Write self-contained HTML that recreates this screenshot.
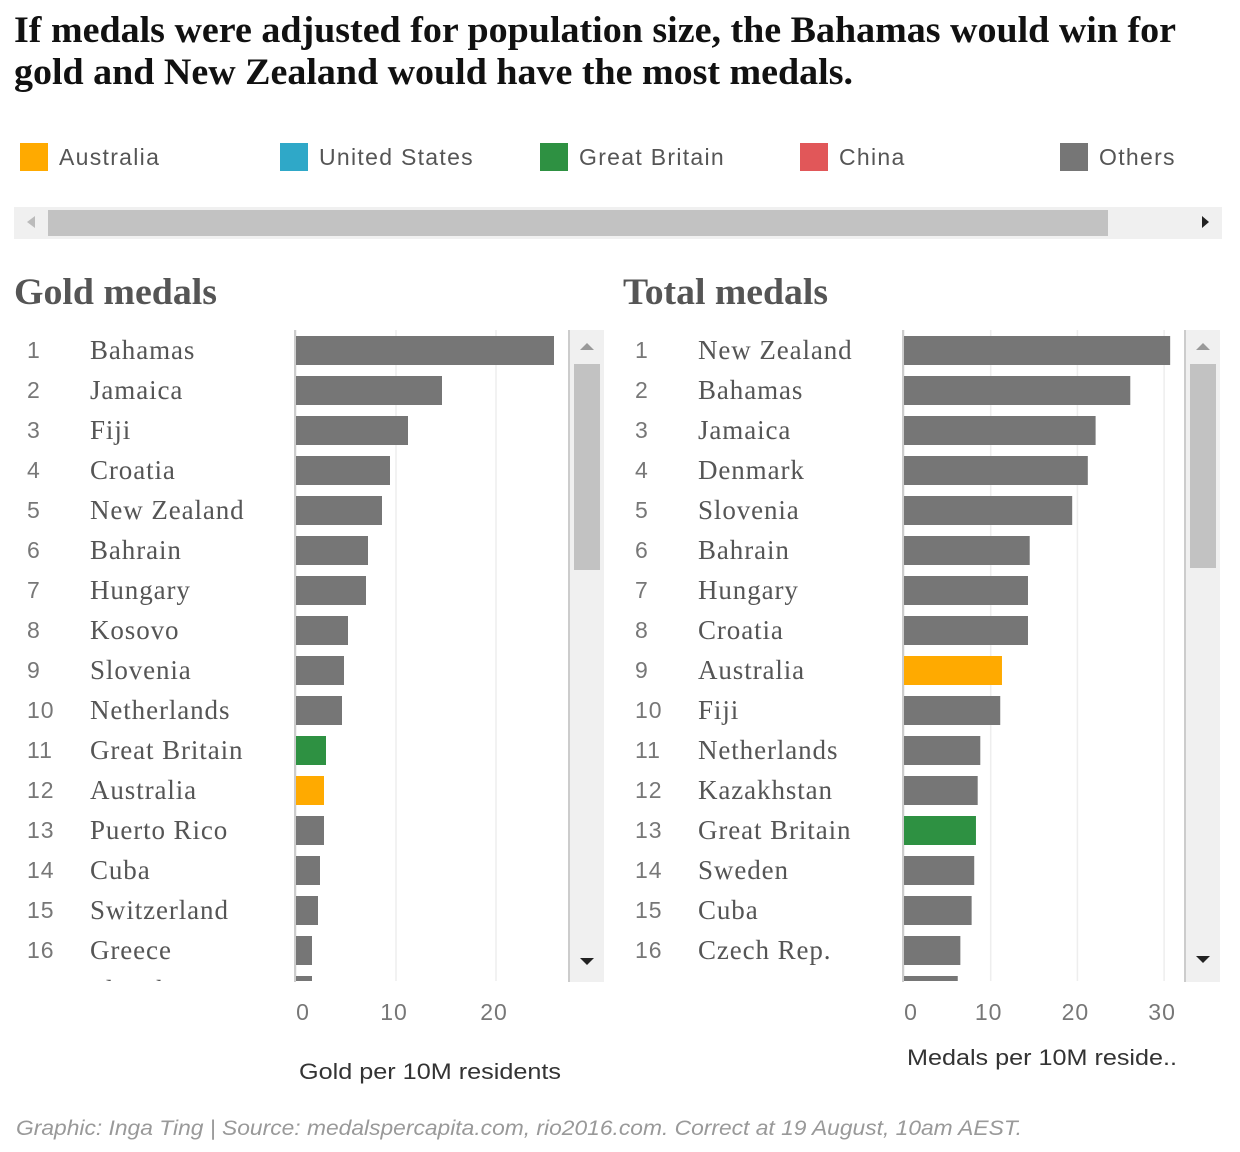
<!DOCTYPE html>
<html><head><meta charset="utf-8"><style>
body{margin:0;width:1240px;height:1147px;background:#fff;overflow:hidden;font-family:"Liberation Sans",sans-serif}
</style></head><body>
<svg id="chart" width="1240" height="1147" xmlns="http://www.w3.org/2000/svg">
<text x="14" y="42" font-family="Liberation Serif" font-weight="bold" font-size="37" fill="#111" textLength="1162" lengthAdjust="spacingAndGlyphs">If medals were adjusted for population size, the Bahamas would win for</text>
<text x="14" y="84" font-family="Liberation Serif" font-weight="bold" font-size="37" fill="#111" textLength="839" lengthAdjust="spacingAndGlyphs">gold and New Zealand would have the most medals.</text>
<g id="legend"></g>
<g>
<rect x="14" y="207" width="1208" height="32" fill="#f0f0f0"/>
<rect x="48" y="210" width="1060" height="26" fill="#c2c2c2"/>
<polygon points="27,222 35,216 35,228" fill="#bbb"/>
<polygon points="1209,222 1202,216 1202,228" fill="#222"/>
</g>
<text x="14" y="304" font-family="Liberation Serif" font-weight="bold" font-size="37" fill="#555" textLength="203" lengthAdjust="spacingAndGlyphs">Gold medals</text>
<text x="623" y="304" font-family="Liberation Serif" font-weight="bold" font-size="37" fill="#555" textLength="205" lengthAdjust="spacingAndGlyphs">Total medals</text>
<defs>
<clipPath id="c1"><rect x="0" y="330" width="570" height="651"/></clipPath>
<clipPath id="c2"><rect x="620" y="330" width="565" height="651"/></clipPath>
</defs>
<g id="gold" clip-path="url(#c1)"></g>
<g id="total" clip-path="url(#c2)"></g>
<g id="axes"></g>
<g>
<rect x="569" y="330" width="35" height="652" fill="#f0f0f0"/><rect x="568" y="330" width="2" height="652" fill="#ccc"/>
<rect x="574" y="364" width="26" height="206" fill="#c2c2c2"/>
<polygon points="587,343 580,350 594,350" fill="#999"/><polygon points="587,965 580,958 594,958" fill="#222"/>
</g>
<g>
<rect x="1185" y="330" width="35" height="652" fill="#f0f0f0"/><rect x="1184" y="330" width="2" height="652" fill="#ccc"/>
<rect x="1190" y="364" width="26" height="204" fill="#c2c2c2"/>
<polygon points="1203,343 1196,350 1210,350" fill="#999"/><polygon points="1203,963 1196,956 1210,956" fill="#222"/>
</g>
<text x="299" y="1079" font-size="22" fill="#333" textLength="262" lengthAdjust="spacingAndGlyphs">Gold per 10M residents</text>
<text x="907" y="1065" font-size="22" fill="#333" textLength="270" lengthAdjust="spacingAndGlyphs">Medals per 10M reside..</text>
<text x="16" y="1135" font-size="21" font-style="italic" fill="#999" textLength="1006" lengthAdjust="spacingAndGlyphs">Graphic: Inga Ting | Source: medalspercapita.com, rio2016.com. Correct at 19 August, 10am AEST.</text>
</svg>
<script>
const legendNames=["Australia","United States","Great Britain","China","Others"];
const legendColors=["#ffaa00","#2fa8c8","#2e9142","#e15759","#767676"];
const goldCountries=["Bahamas","Jamaica","Fiji","Croatia","New Zealand","Bahrain","Hungary","Kosovo","Slovenia","Netherlands","Great Britain","Australia","Puerto Rico","Cuba","Switzerland","Greece","Slovakia"];
const goldValues=[25.8,14.6,11.2,9.4,8.6,7.2,7.0,5.2,4.8,4.6,3.0,2.8,2.8,2.4,2.2,1.6,1.6];
const totalCountries=["New Zealand","Bahamas","Jamaica","Denmark","Slovenia","Bahrain","Hungary","Croatia","Australia","Fiji","Netherlands","Kazakhstan","Great Britain","Sweden","Cuba","Czech Rep.","Georgia"];
const totalValues=[30.7,26.1,22.1,21.2,19.4,14.5,14.3,14.3,11.3,11.1,8.8,8.5,8.3,8.1,7.8,6.5,6.2];
const goldTicks=[0,10,20];
const totalTicks=[0,10,20,30];
const NS="http://www.w3.org/2000/svg";
function mk(tag,attrs,parent,text){const e=document.createElementNS(NS,tag);for(const k in attrs)e.setAttribute(k,attrs[k]);if(text!=null)e.textContent=text;parent.appendChild(e);return e;}
const lg=document.getElementById('legend');
legendNames.forEach((n,i)=>{const x=20+260*i;
const r=mk('rect',{x:x,y:143,width:28,height:28,fill:legendColors[i]},lg);


const t=mk('text',{x:x+39,y:165,'font-size':23,fill:'#555','letter-spacing':1.3},lg,n);

});
function colorFor(c){const i=legendNames.indexOf(c);return i>=0&&i<4?legendColors[i]:legendColors[4];}
function draw(gid,countries,values,ticks,x0,scale,rankX,nameX,axName){
const g=document.getElementById(gid);const ax=document.getElementById('axes');
const xs=v=>x0+v*scale;
ticks.forEach(t=>{mk('line',{x1:xs(t),x2:xs(t),y1:330,y2:982,stroke:'#eee','stroke-width':1.5},g);
const tl=mk('text',{x:xs(t)+(t===0?7:-2),y:1020,'font-size':23,fill:'#777','text-anchor':'middle','letter-spacing':1},ax,t);

});
const axl=mk('line',{x1:x0-1,x2:x0-1,y1:330,y2:982,stroke:'#ccc','stroke-width':2},ax);


countries.forEach((c,i)=>{const yc=350+40*i;
const rk=mk('text',{x:rankX,y:yc+8,'font-size':23,fill:'#777','letter-spacing':1},g,i+1);


const nm=mk('text',{x:nameX,y:yc+9,'font-size':27,fill:'#555','font-family':'Liberation Serif','letter-spacing':0.9},g,c);


const b=mk('rect',{x:x0,y:yc-14,width:xs(values[i])-x0,height:29,fill:colorFor(c)},g);

});}
draw('gold',goldCountries,goldValues,goldTicks,296,10,27,90,'gold');
draw('total',totalCountries,totalValues,totalTicks,904,8.67,635,698,'total');
</script>
</body></html>
